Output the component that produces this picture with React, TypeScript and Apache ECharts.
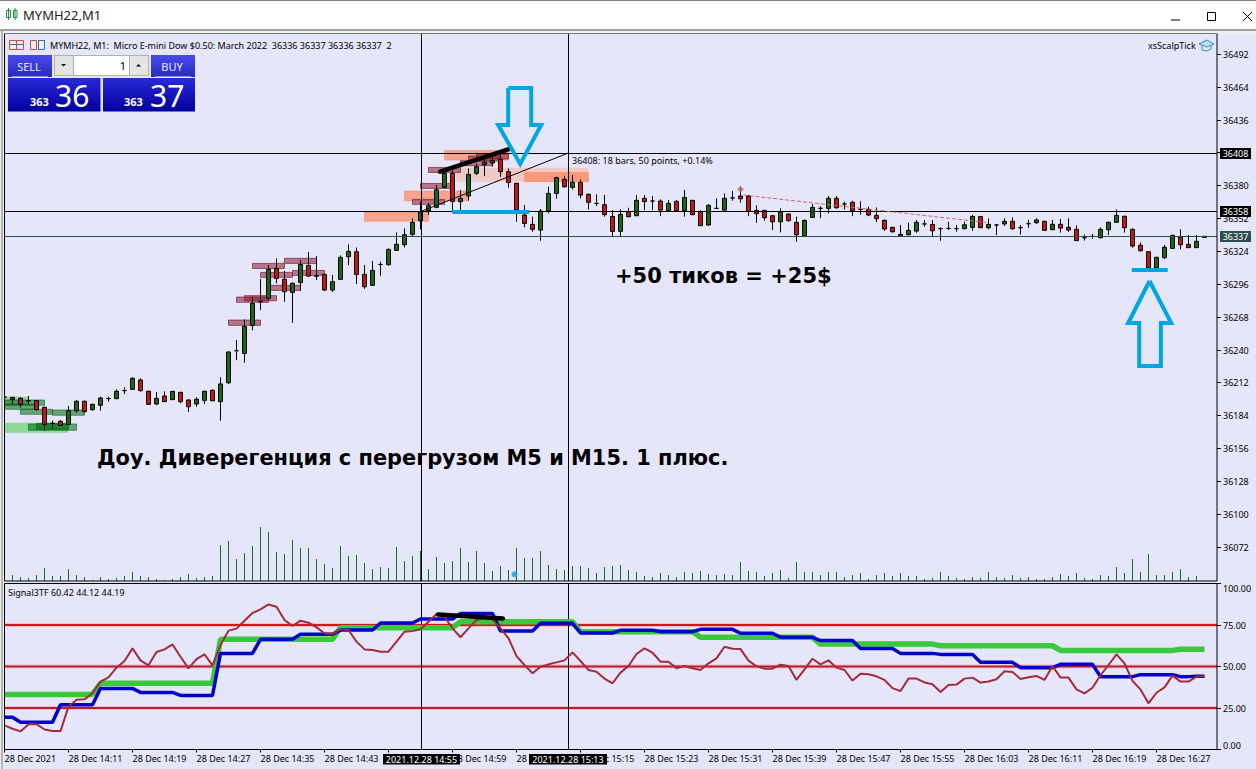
import React, { useEffect, useRef } from "react";
import * as echarts from "echarts";

const tickLabels = ["28 Dec 2021","28 Dec 14:11","28 Dec 14:19","28 Dec 14:27","28 Dec 14:35","28 Dec 14:43","28 Dec 14:51","28 Dec 14:59","28 Dec 15:07","28 Dec 15:15","28 Dec 15:23","28 Dec 15:31","28 Dec 15:39","28 Dec 15:47","28 Dec 15:55","28 Dec 16:03","28 Dec 16:11","28 Dec 16:19","28 Dec 16:27"];
const priceTicks = [36492,36464,36436,36408,36380,36352,36324,36296,36268,36240,36212,36184,36156,36128,36100,36072];
const signalTicks = [0,25,50,75,100];

const opens = [36200,36199.8,36198.9,36196.7,36197,36191.3,36177.6,36179.3,36176.8,36188.4,36196.4,36189.3,36193,36198.7,36198.7,36205.5,36206.6,36214.6,36204.9,36194.1,36200.9,36197.8,36204,36197.5,36194.1,36197.2,36205.8,36196.1,36212.2,36239.5,36237.2,36261.1,36281.2,36284.1,36309.6,36300.3,36289.2,36297.7,36312.2,36303.4,36304.5,36291.2,36300.3,36319.6,36323.8,36304.5,36295.2,36313,36312.8,36325,36329.8,36338.6,36350.3,36358.8,36361.6,36378.7,36390.6,36366.5,36371.3,36390.6,36398,36399.4,36402.5,36392,36382.1,36355.1,36347.1,36342.3,36358.5,36373.5,36385.5,36378.7,36382.9,36372.7,36365,36363.9,36353.9,36341.2,36357.9,36354.5,36369.3,36367,36367,36358.5,36366.7,36358.5,36367.6,36357.9,36346.6,36360.8,36359.3,36369.6,36371.3,36371.3,36359.1,36359.1,36354.5,36349.4,36355.9,36348.8,36337.2,36353.1,36360.8,36360.8,36369.3,36364.5,36365.9,36359.9,36359.9,36354.8,36350.5,36344.6,36338.6,36338.3,36341.4,36347.5,36347.1,36343.5,36343.7,36343.5,36343.5,36344.6,36353.9,36344.3,36346.6,36347.5,36349.7,36344.3,36347.7,36348.6,36349.7,36342.6,36347.2,36344.6,36342.9,36335.8,36336.9,36335.8,36342.6,36348.9,36354,36342.9,36329.3,36323.9,36310,36318.8,36326.7,36336.4,36330.1,36327.3,36336];
const closes = [36200,36197.8,36193.8,36196.7,36189.3,36176.8,36177.6,36175.9,36188.4,36196.4,36187.6,36193.8,36199.2,36198.7,36204.9,36205.5,36216,36205.5,36193.8,36198.9,36196.1,36204.9,36196.1,36191.8,36198.1,36204.9,36196.9,36211.2,36238.4,36239.5,36260.2,36279.8,36281.2,36308.8,36301.1,36289.8,36296.9,36313,36303.1,36302.9,36291.2,36298.3,36319,36324.1,36304.5,36294,36307.9,36313,36325.8,36330.1,36338.3,36348.8,36357.9,36363,36376.7,36390.6,36366.7,36369.3,36389.7,36396.3,36400,36401.4,36392,36382.9,36359.3,36348,36342.9,36358.5,36373.5,36386.9,36379.2,36382.9,36372.1,36365.9,36365,36355.4,36341.2,36355.6,36353.7,36367.6,36366.5,36367,36359.3,36365,36358.5,36370.1,36355.4,36346,36363.3,36360.8,36369.3,36369.6,36369,36358.2,36356.2,36352.8,36349.4,36357.9,36350.3,36338.3,36350.5,36361.6,36360.8,36369.3,36361.3,36364.5,36358.5,36359.9,36355.1,36352,36343.2,36340.9,36337.2,36342,36348.8,36347.5,36341.7,36343.5,36343.7,36343.5,36346.8,36353.9,36344.3,36347.1,36346.6,36349.7,36343.5,36344.3,36347.7,36350.9,36342.1,36347.2,36344,36342.3,36333.3,36335.8,36336.9,36342.9,36348.9,36354.8,36344.3,36328.7,36324.7,36310,36319.1,36327.6,36337.8,36329.8,36327.3,36332.7,36337];
const lows = [36199,36193.8,36191,36194.1,36188.4,36171.4,36173.1,36175.4,36176.2,36186.7,36186.7,36188.4,36188.4,36196.1,36198.1,36202.6,36206,36204.6,36193.3,36193.3,36195.8,36197.5,36194.7,36187.3,36191.8,36194.1,36196.4,36179.9,36211,36231.5,36229.3,36257,36274.1,36282.7,36296.9,36281.2,36263.3,36290.6,36302.5,36299.7,36290.3,36289.5,36299.7,36312.5,36296.3,36292.3,36294.6,36303.4,36312,36324.7,36327.5,36336.6,36342.9,36355.1,36360.8,36377.8,36359.3,36359.3,36367.3,36389.2,36388.3,36396.3,36387.7,36378.4,36349.4,36344.6,36340.9,36333.2,36356.5,36369,36378.4,36376.9,36369.3,36359.9,36362.7,36353.7,36337.2,36337.2,36353.1,36354.2,36359.3,36359.3,36354.2,36357.9,36357.9,36353.7,36355,36345.7,36346,36360.2,36358.5,36367.3,36365.6,36354.2,36348.5,36350.3,36342.3,36340.3,36349.4,36332.4,36336.6,36352.5,36352.5,36356.5,36360.5,36359.9,36354.2,36355.4,36354.2,36349.1,36341.7,36340,36336.6,36337.8,36340,36345.1,36337.2,36333.2,36342.3,36340.9,36342.9,36341.7,36344,36342.9,36338,36345.7,36342.3,36338.4,36344,36347.5,36341.8,36342.3,36340.1,36340.9,36333,36333.3,36335,36335,36338.1,36348.6,36340.1,36327.3,36323.9,36309,36309,36317.6,36326.4,36325.9,36327,36327,36336];
const highs = [36201,36200.1,36199.8,36200.9,36197.5,36191.8,36179.9,36180.5,36192.4,36197.5,36197,36194.4,36200.4,36200.4,36206.6,36208.3,36216.8,36216,36205.5,36204.3,36204.9,36205.2,36204.6,36198.1,36199.8,36205.5,36206.6,36216.8,36239,36248.6,36266.2,36285.5,36300.5,36312.5,36318.2,36307.4,36297.7,36316.7,36323.6,36320.1,36305,36304,36320.7,36330.1,36327.5,36312.5,36315.9,36315.3,36326.7,36340.3,36343.7,36352.2,36366.5,36365.6,36380.6,36393.5,36396.3,36376.4,36394.8,36399.1,36403.4,36406.2,36408,36394.8,36382.6,36363.6,36353.7,36360.2,36379.2,36387.7,36388.6,36389.2,36385.5,36373.5,36372.7,36372.1,36359.3,36359.9,36361.3,36372.1,36372.1,36371.3,36368.5,36367.9,36367.9,36376.4,36368,36359.3,36364.5,36369.3,36373.5,36375.5,36379.2,36372.1,36363.3,36359.3,36355.1,36360.8,36356.5,36353.7,36351.4,36364.5,36362.7,36371.3,36371.3,36366.5,36367.3,36366.7,36362.2,36361.6,36351.4,36345.1,36346.6,36348.5,36350.8,36350.8,36350.8,36344.6,36349.4,36346.6,36349.4,36355.1,36354.2,36352.2,36347,36352.3,36353.1,36346.6,36350.9,36352.3,36350.3,36350.9,36351.7,36352.3,36346.3,36338.4,36338.9,36344.6,36349.4,36359.9,36354.6,36343.8,36331.8,36324.3,36319.5,36329.6,36338.2,36342.9,36338.1,36338.1,36337];
const volumes = [0,6,4,3,6,13,5,5,12,6,4,1,4,2,3,5,9,5,4,2,1,2,4,7,3,4,5,36,40,22,28,35,54,49,29,27,41,33,33,22,17,13,35,25,26,18,12,14,13,34,20,25,30,12,24,18,20,33,19,30,18,10,15,11,33,23,23,30,16,12,11,15,15,13,8,14,15,16,11,9,5,4,8,6,4,9,8,10,7,6,7,6,19,10,9,5,8,11,3,19,9,9,6,9,9,4,6,8,2,6,8,5,8,5,5,2,3,9,5,3,2,4,3,9,4,3,6,3,4,2,2,4,7,5,8,3,2,6,5,14,8,22,9,27,6,6,9,12,4,5,0];

const greenSignal = [33.2,33.2,33.2,33.2,33.2,33.2,33.2,33.2,33.2,33.2,33.2,33.2,39.9,39.9,39.9,39.9,39.9,39.9,39.9,39.9,39.9,39.9,39.9,39.9,39.9,39.9,39.9,66.4,66.4,66.4,66.4,66.4,66.4,66.4,66.4,66.4,66.4,66.4,66.4,66.4,66.4,66.4,73.4,73.4,73.4,73.4,73.4,73.4,73.4,73.4,73.4,73.4,73.4,73.4,73.4,73.4,73.4,77,77,77,77,77,77,77,77,77,77,77,77,77,77,77,71,71,71,71,71,71,71,71,71,71,71,71,71,71,71,67.6,67.6,67.6,67.6,67.6,67.6,67.6,67.6,67.6,67.6,67.6,67.6,67.6,67.6,67.6,63.5,63.5,63.5,63.5,63.5,63.5,63.5,63.5,63.5,63.5,63.5,63.5,63.5,63.5,63.5,62.5,62.5,62.5,62.5,62.5,62.5,62.5,62.5,62.5,62.5,62.5,62.5,62.5,62.5,62.5,59.7,59.7,59.7,59.7,59.7,59.7,59.7,59.7,59.7,59.7,59.7,59.7,59.7,59.7,59.7,60.42,60.42,60.42,60.42];
const blueSignal = [19.4,19.4,16.4,16.4,16.4,16.4,16.4,27,27,27,27,27,36.8,36.8,36.8,36.8,36.8,34.4,34.4,34.4,34.4,34.4,32.6,32.6,32.6,32.6,32.6,57.9,57.9,57.9,57.9,57.9,66.4,66.4,66.4,66.4,66.4,69.4,69.4,69.4,69.4,69.4,72,72,72,72,72,76.2,76.2,76.2,76.2,76.2,78.6,78.6,78.6,78.6,78.6,82,82,82,82,82,71.4,71.4,71.4,71.4,71.4,76,76,76,76,76,70.2,70.2,70.2,70.2,70.2,71.8,71.8,71.8,71.8,71.8,71,71,71,71,71,72.4,72.4,72.4,72.4,72.4,70,70,70,70,70,67.6,67.6,67.6,67.6,67.6,65.6,65.6,65.6,65.6,65.6,60.9,60.9,60.9,60.9,60.9,57.9,57.9,57.9,57.9,57.9,57.3,57.3,57.3,57.3,57.3,52.5,52.5,52.5,52.5,52.5,49.3,49.3,49.3,49.3,49.3,51.3,51.3,51.3,51.3,51.3,43.9,43.9,43.9,43.9,43.9,45.1,45.1,45.1,45.1,45.1,43.9,43.9,44.12,44.12];
const brownSignal = [14.5,12.5,10.9,15.2,15.2,12.1,11.1,11.1,25.8,30,30.2,34,40.9,43.5,49.3,53.3,60.9,53.7,50.7,58.7,60.3,63.3,55.9,48.9,54.5,57.3,50.7,63,71.6,72.8,77.6,82.2,84.4,87.4,86,78,74.4,77.6,76.4,73.6,70,69.6,72.4,72,65,60.3,59.9,58.9,58.9,65,71,71.4,72.4,77,81.6,80,73,67.6,73,78,79.4,78.4,73,67,56.3,50.9,45.9,49.9,51.3,52.5,53.7,58.5,53.3,47.9,46.9,42.7,39.9,46.3,50.3,57.5,60.9,58.3,52.9,52.9,48.9,50.3,48.9,47.9,51.9,54.9,61.9,60.7,60.5,53.5,50.1,48.7,48.7,51.1,50.3,41.9,48.3,54.7,51.3,53.7,49.3,47.9,41.5,45.7,45.3,44.1,41.9,37,35.2,42.7,42.7,40.4,39.3,34.6,38.9,39.1,42.7,43.3,40.3,41,42.3,47.1,46.7,42.5,43.5,44.3,41.9,50.3,43.3,43.3,36.2,33.8,37.2,44.7,50.9,57.3,51.9,41.3,36.2,27.8,34.2,37.4,44.5,40.9,40.9,43.9,44.19];

// zones: first bar, last bar, top price, bottom price
const maroonZones = [[28,32,36265.6,36261.1],[29,33,36285.2,36280.7],[30,34,36286.4,36282.1],[31,35,36313.9,36309.6],[32,36,36306.2,36302],[33,37,36295.2,36290.9],[35,39,36318.2,36313.9],[36,40,36307.9,36303.7],[51,55,36368.4,36364.2],[52,56,36382,36377.8],[53,57,36395.7,36391.4],[57,61,36401.4,36397.1],[58,62,36405.4,36401.1],[59,63,36407,36402.8]];
const salmonZones = [[45,53,36357.6,36349.7],[50,58,36375.5,36367.3],[55,63,36410.2,36401.9],[65,73,36391.4,36383.5]];
const paleZones = [[56.5,73,36395.4,36383.5]];
const brightGreenZones = [[0,8,36178.2,36169.7],[0,3,36200.4,36192.7]];
const darkGreenZones = [[3,9,36177.1,36171.7],[4,8,36177.6,36172.5],[0,5,36197.5,36193],[0,4,36194,36189.6],[2,6,36189.6,36185.3],[6,10,36189,36184.5]];

const hLine36408 = 36407.52, hLine36358 = 36358.1, hLine36337 = 36336.8;
const trendLine = [[52,36358],[70.5,36408]];
const blackLine = [[54.46,36392],[62.96,36411]];
const downArrow = [[62.96,36463.3],[65.84,36463.3],[65.84,36431.8],[67.09,36431.8],[64.46,36398.6],[61.71,36431.8],[62.96,36431.8],[62.96,36463.3]];
const upArrow = [[143.13,36298.9],[145.84,36263.1],[144.55,36263.1],[144.55,36226.5],[141.84,36226.5],[141.84,36263.1],[140.46,36263.1],[143.13,36298.9]];
const blueBarA = [[55.96,36357.7],[65.59,36357.7]];
const blueBarB = [[140.9,36308.3],[145.4,36308.3]];
const dashedRed = [[92.36,36372.1],[122.96,36348.6]];
const crossMark = [[92,36377]];
const blueDot = [[63.75,36049]];
const indicatorBlack = [[54.2,81.3],[62.3,78.9]];
const levels = [75,50,25];
const vBarA = 52.125, vBarB = 70.5;
const lastBarX = 151.56;

const TEXT = "Noto Sans";
const BG = "#E6E6FA";
const BLUE = "#00A5E3";

const categories = Array.from({ length: 153 }, (_, i) => (i % 8 === 0 && tickLabels[i / 8]) || String(i));

function ov(data: number[][], color: string, width: number, extra: any = {}, grid = 0) {
  return {
    type: "line", xAxisIndex: grid === 0 ? 1 : 3, yAxisIndex: grid === 0 ? 0 : 2, data, symbol: "none", silent: true, z: 6,
    lineStyle: { color, width, cap: "butt", join: "miter", ...extra },
  };
}
function zones(data: number[][], fill: string, stroke: string) {
  return {
    type: "custom", xAxisIndex: 1, yAxisIndex: 0, z: 1, silent: true, clip: true, data,
    encode: { x: [0, 1], y: [2, 3] },
    renderItem: (_p: any, api: any) => {
      const a = api.coord([api.value(0), api.value(2)]);
      const b = api.coord([api.value(1), api.value(3)]);
      return { type: "rect", shape: { x: a[0], y: a[1], width: b[0] - a[0], height: b[1] - a[1] }, style: { fill, stroke, lineWidth: 1 } };
    },
  };
}
function axisTicks(values: number[], grid: number) {
  return {
    type: "custom", xAxisIndex: grid === 0 ? 1 : 3, yAxisIndex: grid === 0 ? 0 : 2, z: 5, silent: true, clip: false,
    data: values.map((v) => [lastBarX, v]),
    encode: { x: 0, y: 1 },
    renderItem: (_p: any, api: any) => {
      const a = api.coord([api.value(0), api.value(1)]);
      const y = Math.round(a[1] - 0.5) + 0.5;
      return { type: "line", shape: { x1: a[0], y1: y, x2: a[0] + 4, y2: y }, style: { stroke: "#000", lineWidth: 1 } };
    },
  };
}
const t = (text: string, x: number, y: number, font: number, fill = "#000", o: any = {}) => ({
  type: "text", z: 100, style: { text, x, y, fill, font: `${o.weight || "normal"} ${font}px "${o.family || TEXT}"`, textAlign: o.align || "left", textVerticalAlign: "middle" },
});
const r = (x: number, y: number, width: number, height: number, fill: any, stroke: any = null, z = 100) => ({
  type: "rect", z, shape: { x, y, width, height }, style: { fill, stroke, lineWidth: stroke ? 1 : 0 },
});
const l = (x1: number, y1: number, x2: number, y2: number, stroke: string, lineWidth = 1, z = 100) => ({
  type: "line", z, shape: { x1, y1, x2, y2 }, style: { stroke, lineWidth },
});
const grad = (a: string, b: string) => new echarts.graphic.LinearGradient(0, 0, 0, 1, [{ offset: 0, color: a }, { offset: 1, color: b }]);

export default function App() {
  const ref = useRef<HTMLDivElement>(null);
  useEffect(() => {
    document.body.style.margin = "0";
    const chart = echarts.init(ref.current!, null, { renderer: "svg" });
    chart.setOption({
      animation: false,
      backgroundColor: BG,
      grid: [
        { left: 4.5, top: 33.5, width: 1216, height: 547.5 },
        { left: 4.5, top: 583.5, width: 1216, height: 166 },
      ],
      xAxis: [
        { type: "category", gridIndex: 0, data: categories, boundaryGap: false, show: false },
        { type: "value", gridIndex: 0, min: 0, max: 152, show: false },
        {
          type: "category", gridIndex: 1, data: categories, boundaryGap: false,
          axisLine: { show: false },
          axisTick: { show: true, length: 3, interval: (i: number) => i % 8 === 0 && i <= 144, lineStyle: { color: "#000" } },
          axisLabel: { interval: (i: number) => i % 8 === 0 && i <= 144, align: "left", margin: 4, color: "#000", fontFamily: TEXT, fontSize: 9 },
        },
        { type: "value", gridIndex: 1, min: 0, max: 152, show: false },
      ],
      yAxis: [
        {
          type: "value", gridIndex: 0, position: "right", min: 36043.3, max: 36509.76, scale: true,
          splitLine: { show: false }, axisLine: { show: false }, axisTick: { show: false },
          axisLabel: { customValues: priceTicks, margin: 2.5, color: "#000", fontFamily: TEXT, fontSize: 9, formatter: (v: number) => String(v) },
        },
        { type: "value", gridIndex: 0, min: 0, max: 547.5, show: false },
        {
          type: "value", gridIndex: 1, position: "right", min: 0, max: 100, interval: 25,
          splitLine: { show: false }, axisLine: { show: false }, axisTick: { show: false },
          axisLabel: { margin: 2.5, color: "#000", fontFamily: TEXT, fontSize: 9, verticalAlignMaxLabel: "top", verticalAlignMinLabel: "bottom", formatter: (v: number) => v.toFixed(2) },
        },
      ],
      series: [
        zones(paleZones, "rgba(250,170,140,0.45)", "none"),
        zones(salmonZones, "rgba(255,120,70,0.6)", "rgba(255,130,90,0.5)"),
        zones(maroonZones, "rgba(140,25,50,0.55)", "rgba(120,30,50,0.7)"),
        zones(brightGreenZones, "rgba(50,205,50,0.5)", "none"),
        zones(darkGreenZones, "rgba(0,105,15,0.55)", "rgba(0,90,20,0.55)"),
        axisTicks(priceTicks, 0),
        axisTicks(signalTicks, 1),
        {
          type: "bar", xAxisIndex: 0, yAxisIndex: 1, data: volumes, barWidth: 1, silent: true, z: 2,
          itemStyle: { color: "#17692B" },
        },
        {
          type: "candlestick", xAxisIndex: 0, yAxisIndex: 0, barWidth: 5, silent: true, z: 3,
          data: opens.map((o, i) => [o, closes[i], lows[i], highs[i]]),
          itemStyle: { color: "#126A12", color0: "#C81414", borderColor: "#000", borderColor0: "#000", borderWidth: 1 },
        },
        ov([[0, hLine36408], [lastBarX, hLine36408]], "#000", 1),
        ov([[0, hLine36358], [lastBarX, hLine36358]], "#000", 1),
        ov([[0, hLine36337], [lastBarX, hLine36337]], "#2F4F4F", 1),
        ov([[vBarA, 36043.3], [vBarA, 36509.76]], "#000", 1),
        ov([[vBarB, 36043.3], [vBarB, 36509.76]], "#000", 1),
        ov(trendLine, "#000", 1),
        ov(dashedRed, "#C86A6A", 1, { type: "dashed" }),
        ov(blackLine, "#000", 4.5, { cap: "round" }),
        ov(downArrow, BLUE, 4),
        ov(upArrow, BLUE, 4),
        ov(blueBarA, BLUE, 4),
        ov(blueBarB, BLUE, 4),
        { type: "scatter", xAxisIndex: 1, yAxisIndex: 0, data: crossMark, symbol: "diamond", symbolSize: 7, silent: true, z: 6, itemStyle: { color: "#C06A6A" } },
        { type: "scatter", xAxisIndex: 1, yAxisIndex: 0, data: blueDot, symbol: "circle", symbolSize: 6, silent: true, z: 6, itemStyle: { color: BLUE } },

        ...levels.map((v) => ov([[0, v], [lastBarX, v]], "rgba(255,170,180,0.7)", 4, {}, 1)),
        ...levels.map((v) => ov([[0, v], [lastBarX, v]], v === 75 ? "#CC1A1A" : "#B02030", 2, {}, 1)),
        { type: "line", xAxisIndex: 3, yAxisIndex: 2, data: greenSignal.map((v, i) => [i, v]), symbol: "none", silent: true, z: 7, lineStyle: { color: "#3CC83C", width: 5.5 } },
        { type: "line", xAxisIndex: 3, yAxisIndex: 2, data: blueSignal.map((v, i) => [i, v]), symbol: "none", silent: true, z: 8, lineStyle: { color: "#0000CC", width: 3.5 } },
        { type: "line", xAxisIndex: 3, yAxisIndex: 2, data: brownSignal.map((v, i) => [i, v]), symbol: "none", silent: true, z: 9, lineStyle: { color: "#A52A3A", width: 2 } },
        ov([[vBarA, 0], [vBarA, 100]], "#000", 1, {}, 1),
        ov([[vBarB, 0], [vBarB, 100]], "#000", 1, {}, 1),
        { ...ov(indicatorBlack, "#000", 4.5, { cap: "round" }, 1), z: 10 },
      ],
      graphic: { elements: [
        // window chrome
        r(0, 0, 1256, 30, "#FFFFFF"),
        l(0, 0.5, 1256, 0.5, "#7F7F7F", 1),
        l(0, 30, 1256, 30, "#A0A0A0", 2),
        r(0, 31, 1256, 2.5, "#F0F0F0"),
        r(0, 31, 4, 738, "#F0F0F0"),
        l(2, 31, 2, 769, "#A0A0A0", 1.5),
        r(6.5, 10.5, 4, 7, "none", "#1E8C3C"),
        l(8.5, 8, 8.5, 20, "#1E8C3C"),
        r(13.5, 10.5, 3.5, 7, "none", "#1E8C3C"),
        l(15, 8, 15, 20, "#1E8C3C"),
        t("MYMH22,M1", 23, 15, 13, "#222"),
        l(1171, 20, 1180, 20, "#000"),
        r(1207.5, 12.5, 8, 8, "none", "#000"),
        l(1243, 12, 1252, 21, "#000"),
        l(1252, 12, 1243, 21, "#000"),

        // frames
        r(4.5, 33.5, 1212.5, 547.5, "none", "#000", 20),
        r(4.5, 583.5, 1212.5, 166, "none", "#000", 20),

        // header
        r(9.5, 40.5, 14, 9, "#FBEAEA", "#C8503C"),
        l(16.5, 40, 16.5, 50, "#C8503C"),
        l(10, 44.5, 23, 44.5, "#2A6FA8"),
        r(30.5, 40.5, 6, 9, "#FBEAEA", "#C8503C"),
        r(38.5, 40.5, 6, 9, "#E6F2FA", "#2A6FA8"),
        t("MYMH22, M1:  Micro E-mini Dow $0.50: March 2022  36336 36337 36336 36337  2", 50, 45, 9),
        t("xsScalpTick", 1148, 45, 9),
        { type: "polygon", z: 100, shape: { points: [[1199, 44], [1207, 40], [1214, 44], [1207, 47]] }, style: { fill: "#BFE0F2", stroke: "#2C8FC9", lineWidth: 1 } },
        { type: "polyline", z: 100, shape: { points: [[1202, 46], [1202, 50], [1207, 51], [1211, 49], [1211, 46]] }, style: { fill: "none", stroke: "#2C8FC9", lineWidth: 1 } },

        // trade panel
        r(8, 55, 44, 22, grad("#4A4AE8", "#2828C8")),
        r(151, 55, 44, 22, grad("#4A4AE8", "#2828C8")),
        l(12, 76.5, 48, 76.5, "#9090F0"),
        l(155, 76.5, 191, 76.5, "#9090F0"),
        t("SELL", 29, 66, 11, "#E8E8FF", { align: "center" }),
        t("BUY", 172, 66, 11, "#E8E8FF", { align: "center" }),
        r(54.5, 55.5, 94, 20, "#FFFFFF", "#B0B0B0"),
        r(54.5, 55.5, 19, 20, "#E4E4E4", "#B0B0B0"),
        r(129.5, 55.5, 19, 20, "#E4E4E4", "#B0B0B0"),
        { type: "polygon", z: 100, shape: { points: [[61, 64], [66, 64], [63.5, 66.5]] }, style: { fill: "#000" } },
        { type: "polygon", z: 100, shape: { points: [[136, 66.5], [141, 66.5], [138.5, 64]] }, style: { fill: "#000" } },
        t("1", 126, 65, 11, "#000", { align: "right" }),
        r(8, 78, 92.5, 33.5, grad("#2A2AD8", "#00009C")),
        r(103, 78, 92, 33.5, grad("#2A2AD8", "#00009C")),
        t("363", 30, 101, 11, "#FFFFFF", { weight: "bold" }),
        t("36", 55, 95, 30, "#FFFFFF"),
        t("363", 124, 101, 11, "#FFFFFF", { weight: "bold" }),
        t("37", 150, 95, 30, "#FFFFFF"),

        // annotation texts
        t("36408: 18 bars, 50 points, +0.14%", 572, 160, 9),
        t("+50 тиков = +25$", 615, 276, 21, "#000", { family: "DejaVu Sans", weight: "bold" }),
        t("Доу. Диверегенция с перегрузом М5 и М15. 1 плюс.", 97, 458, 20.9, "#000", { family: "DejaVu Sans", weight: "bold" }),
        t("Signal3TF 60.42 44.12 44.19", 8, 592, 9),

        // axis price tags
        r(1220, 148, 31, 11, "#000"),
        t("36408", 1235.5, 153.5, 9, "#FFF", { align: "center" }),
        r(1220, 206, 31, 11, "#000"),
        t("36358", 1235.5, 211.5, 9, "#FFF", { align: "center" }),
        r(1220, 231, 31, 11, "#2F4F4F"),
        t("36337", 1235.5, 236.5, 9, "#FFF", { align: "center" }),

        // axis time tags
        r(383, 754, 77, 10.5, "#000"),
        t("2021.12.28 14:55", 421.5, 759, 9, "#FFF", { align: "center" }),
        r(529, 754, 78, 10.5, "#000"),
        t("2021.12.28 15:13", 568, 759, 9, "#FFF", { align: "center" }),
      ] },
    });
    return () => chart.dispose();
  }, []);
  return <div ref={ref} style={{ position: "fixed", left: 0, top: 0, width: 1256, height: 769 }} />;
}
